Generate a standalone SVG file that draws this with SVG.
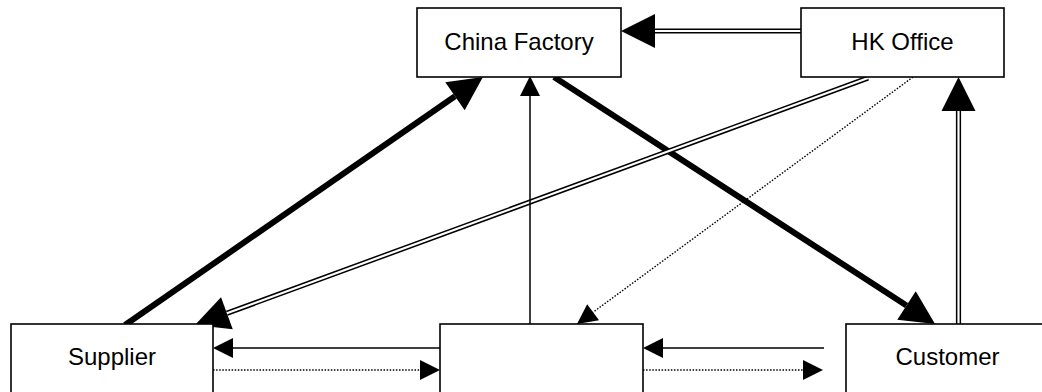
<svg xmlns="http://www.w3.org/2000/svg" width="1042" height="392" viewBox="0 0 1042 392">
  <style>
    .box { fill: #ffffff; stroke: #000000; stroke-width: 1.6; }
    .lbl { font-family: "Liberation Sans", Arial, sans-serif; font-size: 24px; fill: #000000; text-anchor: middle; }
    .thin { fill: none; stroke: #000000; stroke-width: 1.5; }
    .dot { fill: none; stroke: #000000; stroke-width: 1.4; stroke-dasharray: 1.5 1.6; }
    .thick { fill: none; stroke: #000000; stroke-width: 6; }
    .dblo { fill: none; stroke: #000000; stroke-width: 5.2; }
    .dbli { fill: none; stroke: #ffffff; stroke-width: 2.2; }
  </style>
  <defs>
    <marker id="big" markerUnits="userSpaceOnUse" markerWidth="36" markerHeight="36" refX="0" refY="17" orient="auto" overflow="visible">
      <path d="M0,0 L34,17 L0,34 z" fill="#000000"/>
    </marker>
    <marker id="small" markerUnits="userSpaceOnUse" markerWidth="22" markerHeight="22" refX="0" refY="10" orient="auto" overflow="visible">
      <path d="M0,0 L20,10 L0,20 z" fill="#000000"/>
    </marker>
  </defs>
  <g id="connectors">
    <path class="dblo" d="M801,31 L655,31" marker-end="url(#big)"/>
    <path class="dbli" d="M801,31 L655,31"/>
    <path class="thick" d="M125,325 L455,96.3" marker-end="url(#big)"/>
    <path class="thick" d="M554,77 L906.5,305.5" marker-end="url(#big)"/>
    <path class="dblo" d="M868,78 L226.9,313.3" marker-end="url(#big)"/>
    <path class="dbli" d="M868,78 L226.9,313.3"/>
    <path class="dblo" d="M958.5,324 L958.5,111" marker-end="url(#big)"/>
    <path class="dbli" d="M958.5,324 L958.5,111"/>
    <path class="thin" d="M530,324 L530,96" marker-end="url(#small)"/>
    <path class="dot" d="M913,77 L593.1,312.2" marker-end="url(#small)"/>
    <path class="thin" d="M440,348 L233,348" marker-end="url(#small)"/>
    <path class="dot" d="M213,370 L420,370" marker-end="url(#small)"/>
    <path class="thin" d="M824,348 L663,348" marker-end="url(#small)"/>
    <path class="dot" d="M643,370 L803,370" marker-end="url(#small)"/>
  </g>
  <g id="china-factory">
    <rect class="box" x="417" y="8" width="204" height="69"/>
    <text class="lbl" x="519" y="50">China Factory</text>
  </g>
  <g id="hk-office">
    <rect class="box" x="801" y="8" width="203" height="69"/>
    <text class="lbl" x="902.5" y="50">HK Office</text>
  </g>
  <g id="supplier">
    <rect class="box" x="11" y="324" width="202" height="69"/>
    <text class="lbl" x="112" y="365">Supplier</text>
  </g>
  <g id="middle">
    <rect class="box" x="440" y="324" width="203" height="69"/>
  </g>
  <g id="customer">
    <rect class="box" x="846" y="324" width="203" height="69"/>
    <text class="lbl" x="947.5" y="365">Customer</text>
  </g>
</svg>
